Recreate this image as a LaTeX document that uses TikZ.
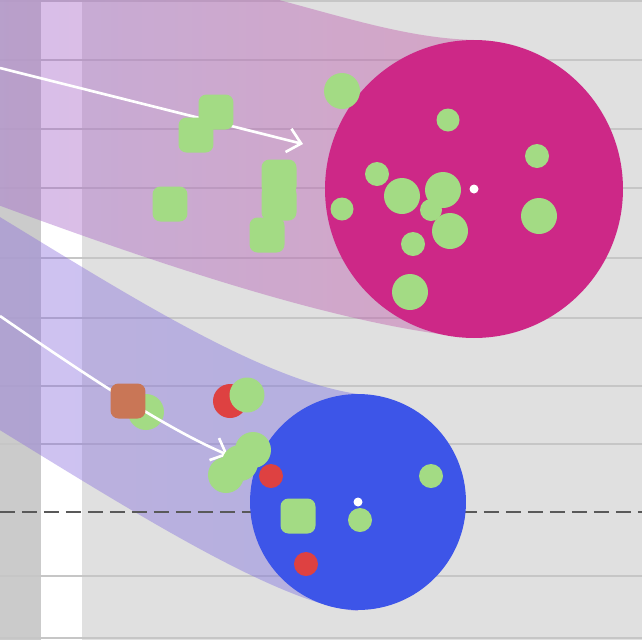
\documentclass[tikz,border=0pt]{standalone}
\usepackage{tikz}
\usetikzlibrary{positioning,arrows.meta}
\definecolor{bgc}{HTML}{E0E0E0}
\definecolor{stripc}{HTML}{CBCBCB}
\definecolor{gridc}{HTML}{C6C6C6}
\definecolor{magc}{HTML}{CD2887}
\definecolor{bluc}{HTML}{3D55E8}
\definecolor{grnc}{HTML}{A3DB84}
\definecolor{redc}{HTML}{DE4141}
\definecolor{mixc}{HTML}{C97656}
\definecolor{magtrailL}{RGB}{156,96,204}
\definecolor{magtrailR}{RGB}{196,78,158}
\definecolor{blutrailL}{RGB}{138,104,218}
\definecolor{blutrailR}{RGB}{114,106,226}
\tikzset{
  gridln/.style={gridc,line width=1.1pt},
  zeroln/.style={black!65,line width=1.1pt,dash pattern=on 0.3cm off 0.14cm},
  trail/.style={fill opacity=0.4},
  moveln/.style={white,line width=1.5pt,-{Straight Barb[length=2.6mm,width=4.8mm]}},
  ball/.style={circle,inner sep=0pt},
  ctr/.style={circle,fill=white,inner sep=0pt,minimum size=1.8mm},
  gdot/.style={circle,fill=grnc,inner sep=0pt},
  rdot/.style={circle,fill=redc,inner sep=0pt},
  gsq/.style={fill=grnc,rounded corners=1.6mm,inner sep=0pt,minimum size=7mm},
}

\begin{document}
\begin{tikzpicture}[x=0.02cm,y=-0.02cm]
  \useasboundingbox (0,0) rectangle (642,640);
  \clip (0,0) rectangle (642,640);
  \fill[bgc] (0,0) rectangle (642,640);
  \fill[stripc] (0,0) rectangle (41,640);
  \fill[white] (41,0) rectangle (82,640);
  \foreach \y in {1,60,129,188,258,318,386,444,576,638}
    \draw[gridln] (0,\y) -- (642,\y);
  % trails
  \shade[trail,left color=magtrailL,right color=magtrailR]
    (-10,-10) -- (240,-10) .. controls (330,12) and (400,38) .. (474,40)
    -- (474,338) .. controls (360,328) and (200,280) .. (-10,202) -- cycle;
  \shade[trail,left color=blutrailL,right color=blutrailR]
    (-10,211) .. controls (120,290) and (260,380) .. (358,394)
    -- (358,611) .. controls (280,605) and (130,510) .. (-10,424) -- cycle;
  \draw[zeroln] (0,512) -- (642,512);
  % balls
  \node[ball,fill=magc,minimum size=5.96cm] (magball) at (474,189) {};
  \node[ball,fill=bluc,minimum size=4.32cm] (bluball) at (358,502) {};
  \node[ctr] (magctr) at (magball.center) {};
  \node[ctr] (bluctr) at (bluball.center) {};
  % motion
  \node[gdot,minimum size=7.2mm] (bg1) at (146,412) {};
  \coordinate (magfrom) at (0,68);
  \coordinate (magto) at (303,144);
  \coordinate (blufrom) at (0,316);
  \coordinate (bluto) at (228,455);
  \draw[moveln] (magfrom) -- (magto);
  \draw[moveln] (blufrom) .. controls (100,385) and (170,430) .. (bluto);
  % magenta group
  \foreach \x/\y [count=\i] in {216/112,196/135,170/204,279/177,279/203,267/235}
    \node[gsq] (ms\i) at (\x,\y) {};
  \foreach \x/\y/\d [count=\i] in {342/91/36, 448/120/23, 537/156/24, 377/174/24,
      402/196/36, 443/190/36, 431/210/22, 342/209/23, 450/231/36, 539/216/36,
      413/244/24, 410/292/36}
    \node[gdot,minimum size=\d*0.2mm] (mg\i) at (\x,\y) {};
  % blue group
  \node[gsq,fill=mixc] (bs1) at (128,401) {};
  \node[rdot,minimum size=6.8mm] (br1) at (230,401) {};
  \foreach \x/\y/\d [count=\i from 2] in {247/395/35, 253/450/36, 240/463/36,
      226/475/36, 431/476/24, 360/520/24}
    \node[gdot,minimum size=\d*0.2mm] (bg\i) at (\x,\y) {};
  \node[gsq] (bs2) at (298,516) {};
  \node[rdot,minimum size=4.8mm] (br2) at (271,476) {};
  \node[rdot,minimum size=4.8mm] (br3) at (306,564) {};
\end{tikzpicture}
\end{document}
